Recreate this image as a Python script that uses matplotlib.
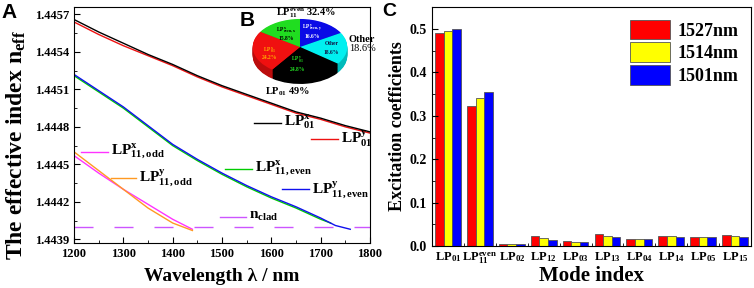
import matplotlib
matplotlib.use("Agg")
import matplotlib.pyplot as plt
import numpy as np
from matplotlib.ticker import MultipleLocator, FixedLocator, FormatStrFormatter
import matplotlib.colors as mcolors

plt.rcParams['font.family'] = ['Liberation Serif', 'DejaVu Serif']
plt.rcParams['font.weight'] = 'bold'
plt.rcParams['mathtext.fontset'] = 'custom'
plt.rcParams['mathtext.rm'] = 'Liberation Serif:bold'
plt.rcParams['mathtext.bf'] = 'Liberation Serif:bold'
plt.rcParams['mathtext.it'] = 'Liberation Serif:bold'
plt.rcParams['mathtext.default'] = 'bf'

# ---- panel A data (effective index vs wavelength) ----
wl_01 = [1200, 1250, 1300, 1350, 1400, 1450, 1500, 1550, 1600, 1650, 1700, 1750, 1800]
neff_01x = [1.44566, 1.44556, 1.44547, 1.44538, 1.44530, 1.44521, 1.44513,
            1.44506, 1.44499, 1.44492, 1.44487, 1.44481, 1.44476]
neff_01y = [1.44564, 1.44554, 1.44545, 1.44537, 1.44529, 1.44520, 1.44512,
            1.44505, 1.44498, 1.44491, 1.44486, 1.44480, 1.44475]

wl_even_x = [1200, 1250, 1300, 1350, 1400, 1450, 1500, 1550, 1600, 1650, 1700, 1720]
neff_even_x = [1.44521, 1.44508, 1.44495, 1.44480, 1.44465, 1.44453, 1.44442,
               1.44432, 1.44423, 1.44415, 1.44406, 1.44403]
wl_even_y = [1200, 1250, 1300, 1350, 1400, 1450, 1500, 1550, 1600, 1650, 1700, 1730, 1760]
neff_even_y = [1.44522, 1.44509, 1.44496, 1.44481, 1.44466, 1.44454, 1.44443,
               1.44433, 1.44424, 1.44416, 1.44407, 1.44401, 1.44398]

wl_odd = [1200, 1250, 1300, 1350, 1400, 1440]
neff_odd_x = [1.44457, 1.44443, 1.44430, 1.44418, 1.44406, 1.44398]
neff_odd_y = [1.44460, 1.44445, 1.44430, 1.44415, 1.44403, 1.44397]

n_clad = 1.44400

# ---- panel B data (pie) ----
pie_values = [16.6, 18.6, 24.8, 24.2, 15.8]
pie_colors = ['#0a0ae6', '#00f0f0', '#000000', '#f01010', '#20dd20']

# ---- panel C data (excitation coefficients) ----
modes = [r'$LP_{01}$', r'$LP^{even}_{11}$', r'$LP_{02}$', r'$LP_{12}$', r'$LP_{03}$',
         r'$LP_{13}$', r'$LP_{04}$', r'$LP_{14}$', r'$LP_{05}$', r'$LP_{15}$']
exc_1527 = [0.490, 0.323, 0.005, 0.022, 0.011, 0.028, 0.015, 0.024, 0.021, 0.025]
exc_1514 = [0.495, 0.341, 0.005, 0.018, 0.010, 0.024, 0.015, 0.022, 0.020, 0.022]
exc_1501 = [0.500, 0.356, 0.004, 0.014, 0.010, 0.021, 0.015, 0.021, 0.020, 0.021]

fig = plt.figure(figsize=(7.54, 2.88), dpi=100)

# ================= panel A =================
axA = fig.add_axes([74/754, 1-243/288, 296/754, 236/288])
axA.plot(wl_01, neff_01y, color='#ee1111', lw=1.0)
axA.plot(wl_01, neff_01x, color='black', lw=1.0)
axA.plot(wl_even_x, neff_even_x, color='#00cc00', lw=1.0)
axA.plot(wl_even_y, neff_even_y, color='#1010ee', lw=1.0)
axA.plot(wl_odd, neff_odd_x, color='#ff33ff', lw=1.0)
axA.plot(wl_odd, neff_odd_y, color='#ff9922', lw=1.0)
axA.axhline(n_clad, color='#cc55ff', lw=1.0, dashes=(13.7, 15.1))

# inline legend entries: (x0, x1, y, color, text)
leg = [(1564, 1619, 1.44483, 'black', r'$LP^{x}_{01}$'),
       (1680, 1735, 1.44470, '#ee1111', r'$LP^{y}_{01}$'),
       (1215, 1268, 1.44460, '#ff33ff', r'$LP^{x}_{11,odd}$'),
       (1274, 1325, 1.44439, '#ff9922', r'$LP^{y}_{11,odd}$'),
       (1507, 1561, 1.44446, '#00cc00', r'$LP^{x}_{11,even}$'),
       (1622, 1676, 1.44430, '#1010ee', r'$LP^{y}_{11,even}$'),
       (1496, 1548, 1.44408, '#cc55ff', r'$n_{clad}$')]
for x0, x1, y, c, t in leg:
    axA.plot([x0, x1], [y, y], color=c, lw=1.0)
    axA.text(x1 + 6, y, t, fontsize=11, va='center', ha='left')

axA.set_xlim(1200, 1800)
axA.set_ylim(1.44387, 1.44576)
axA.xaxis.set_major_locator(MultipleLocator(100))
axA.xaxis.set_minor_locator(MultipleLocator(50))
axA.yaxis.set_major_locator(FixedLocator([1.4439, 1.4442, 1.4445, 1.4448, 1.4451, 1.4454, 1.4457]))
axA.yaxis.set_minor_locator(MultipleLocator(0.00015))
axA.yaxis.set_major_formatter(FormatStrFormatter('%.4f'))
axA.tick_params(which='both', direction='in', labelsize=9)
axA.tick_params(which='major', length=4)
axA.tick_params(which='minor', length=2)
axA.set_xlabel('Wavelength λ / nm', fontsize=14, fontweight='bold', labelpad=6)
axA.set_ylabel(r'The effective index $n_{eff}$', fontsize=17, fontweight='bold')
axA.yaxis.set_label_coords(-0.155, 0.415)

fig.text(1/754, 1-12/288, 'A', family='Liberation Sans', fontsize=15, fontweight='bold', va='center')

# ================= panel B (pseudo-3D pie) =================
axB = fig.add_axes([248/754, 1-96/288, 104/754, 86/288])
depth = 0.32
dark = [tuple(np.array(mcolors.to_rgb(c)) * 0.78) for c in pie_colors]
for k in np.linspace(depth, 0.0, 14)[:-1]:
    axB.pie(pie_values, colors=dark, startangle=90, counterclock=False,
            center=(0, -k), radius=1.0, wedgeprops=dict(linewidth=0))
axB.pie(pie_values, colors=pie_colors, startangle=90, counterclock=False,
        center=(0, 0), radius=1.0, wedgeprops=dict(linewidth=0))
axB.set_aspect('auto')
axB.set_xlim(-1.1, 1.1)
axB.set_ylim(-1.75, 1.32)
axB.axis('off')

inner = [(0.26, 0.68, r'$LP^{y}_{even,y}$', 'white'), (0.26, 0.36, '16.6%', 'white'),
         (-0.29, 0.61, r'$LP^{x}_{even,x}$', 'black'), (-0.29, 0.32, '15.8%', 'black'),
         (-0.64, -0.11, r'$LP^{x}_{01}$', '#ffaa00'), (-0.64, -0.39, '24.2%', '#ffaa00'),
         (-0.05, -0.46, r'$LP^{y}_{01}$', '#22dd22'), (-0.05, -0.79, '24.8%', '#22dd22'),
         (0.67, 0.11, 'Other', '#111144'), (0.67, -0.18, '18.6%', '#111144')]
for x, y, t, c in inner:
    axB.text(x, y, t, fontsize=4, color=c, ha='center', va='center')
axB.text(0.12, 1.2, r'$LP^{even}_{11}$ 32.4%', fontsize=7.5, ha='center', va='center')
axB.text(1.03, 0.25, 'Other', fontsize=7.5, ha='left', va='center')
axB.text(1.03, -0.04, '18.6%', fontsize=7.5, fontweight='normal', ha='left', va='center')
axB.text(-0.26, -1.6, r'$LP_{01}$ 49%', fontsize=7.5, ha='center', va='center')
fig.text(240/754, 1-20/288, 'B', family='Liberation Sans', fontsize=15, fontweight='bold', va='center')

# ================= panel C =================
axC = fig.add_axes([432/754, 1-246/288, 319/754, 239/288])
x = np.arange(1, len(modes) + 1)
w = 0.27
axC.bar(x - w, exc_1527, w, color='#ff0000', edgecolor='#555555', lw=0.6, label='1527nm')
axC.bar(x, exc_1514, w, color='#ffff00', edgecolor='#555555', lw=0.6, label='1514nm')
axC.bar(x + w, exc_1501, w, color='#0000ff', edgecolor='#555555', lw=0.6, label='1501nm')
axC.set_xlim(0.5, 10.5)
axC.set_ylim(0, 0.551)
axC.set_xticks(x)
axC.set_xticklabels(modes, fontsize=9)
axC.xaxis.set_minor_locator(FixedLocator(np.arange(1.5, 10.5, 1.0)))
axC.yaxis.set_major_locator(MultipleLocator(0.1))
axC.yaxis.set_minor_locator(MultipleLocator(0.05))
axC.yaxis.set_major_formatter(FormatStrFormatter('%.1f'))
axC.tick_params(which='both', direction='in', labelsize=10)
axC.tick_params(axis='x', which='major', length=0, pad=3, labelsize=9)
axC.tick_params(axis='x', which='minor', length=2)
axC.tick_params(axis='y', which='major', length=4)
axC.tick_params(axis='y', which='minor', length=2)
axC.set_xlabel('Mode index', fontsize=15, fontweight='bold', labelpad=0)
axC.set_ylabel('Excitation coefficients', fontsize=13, fontweight='bold', labelpad=3)
axC.legend(loc='upper right', frameon=False, fontsize=13, handlelength=2.2, handleheight=1.3,
           handletextpad=0.4, labelspacing=0.15, borderaxespad=0.3)
fig.text(382/754, 1-12/288, 'C', family='Liberation Sans', fontsize=14, fontweight='bold', va='center')

fig.savefig('out.png', dpi=100)
